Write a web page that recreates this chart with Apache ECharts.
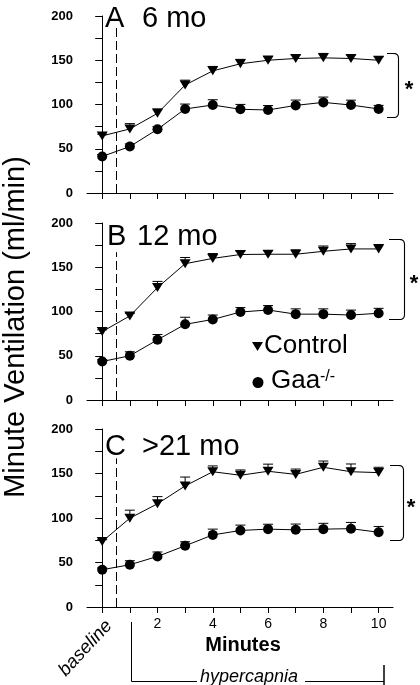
<!DOCTYPE html>
<html><head><meta charset="utf-8">
<script src="https://cdn.jsdelivr.net/npm/echarts@6/dist/echarts.min.js"></script>
<style>html,body{margin:0;padding:0;background:#fff}#c{width:420px;height:685px}</style>
</head><body><div id="c"></div>
<script>
// ---- data ----
const minutes = [0,1,2,3,4,5,6,7,8,9,10];
const xTickLabels = [2,4,6,8,10];
const yTickLabels = [0,50,100,150,200];
const panelLetters = ['A','B','C'];
const panelAges = ['6 mo','12 mo','>21 mo'];
const seriesNames = ['Control','Gaa'];

const controlA    = [64.5,72.4,90,122,138,146,150,152,152.7,152,150];
const controlAErr = [2,6,5,5.5,5,5,4.6,4,5,4,4];
const gaaA        = [41.3,52.5,72,95,99.4,94.6,93.8,99,102.4,99.4,95];
const gaaAErr     = [2,3,3,5.5,6,5.5,5,6,6,5.5,4];

const controlB    = [77.3,95,127,154,160,164.4,164.7,164.7,168,170.7,170.7];
const controlBErr = [2,3,7,7,5.5,4,4,5,6,6,5];
const gaaB        = [43.5,50,68,85.5,91,99.4,101.7,97,97,96,98];
const gaaBErr     = [2,4.5,6,8,5,5,5,6,6,5.6,5.6];

const controlC    = [73.6,99.8,116,136,152,148,152.5,149,157,152,151];
const controlCErr = [2,9,8,10,6.5,6,8,6,7,8.7,6];
const gaaC        = [41.9,47.5,56.8,68.8,81,86,87.5,86.7,87.5,88,84];
const gaaCErr     = [2,4.5,5,4.5,6.5,6,5.5,6.5,6.5,7,6.5];

// significance bracket spans (value units) and dashed-line tops
const bracketSpans = [[158.5,86],[182,91.5],[159.6,75]];
const dashTops = [188,167,167];
const hypercapniaStart = 0.5;

// ---- layout ----
const FONT = '"Liberation Sans", Arial, sans-serif';
const gridTops = [16,223,429];
const gridHeights = [177,177,178];
const bracketX = [[387,398],[389,404],[390,403]];
const starX = [409,414,411];

const controls = [controlA, controlB, controlC];
const controlErrs = [controlAErr, controlBErr, controlCErr];
const gaas = [gaaA, gaaB, gaaC];
const gaaErrs = [gaaAErr, gaaBErr, gaaCErr];

function errRender(params, api){
  const x = api.value(0), y = api.value(1), e = api.value(2);
  const p0 = api.coord([x,y]); const p1 = api.coord([x,y+e]);
  return {type:'group', children:[
    {type:'line', shape:{x1:p0[0],y1:p0[1],x2:p1[0],y2:p1[1]}, style:{stroke:'#000',lineWidth:1}},
    {type:'line', shape:{x1:p1[0]-5,y1:p1[1],x2:p1[0]+5,y2:p1[1]}, style:{stroke:'#000',lineWidth:1}}
  ]};
}

const chart = echarts.init(document.getElementById('c'), null, {renderer:'canvas'});
const grid=[], xAxis=[], yAxis=[], series=[];
for (let i=0;i<3;i++){
  grid.push({left:87, right:27, top:gridTops[i], height:gridHeights[i], containLabel:false, outerBoundsMode:'none'});
  xAxis.push({type:'value', gridIndex:i, min:-0.55, max:10.52,
    axisLine:{show:true,onZero:false,lineStyle:{color:'#000',width:1}},
    axisTick:{show:true, customValues:minutes, length:6, lineStyle:{color:'#000',width:1}},
    axisLabel:{show:i===2, customValues:xTickLabels, margin:10, color:'#000', fontSize:14, fontFamily:FONT},
    splitLine:{show:false}});
  yAxis.push({type:'value', gridIndex:i, min:0, max:200, interval:25,
    axisLine:{show:true,lineStyle:{color:'#000',width:1}},
    axisTick:{show:true, length:7, lineStyle:{color:'#000',width:1}},
    axisLabel:{margin:14, color:'#000', fontSize:13, fontWeight:'bold', fontFamily:FONT,
      formatter:v=> yTickLabels.includes(v)? String(v):''},
    splitLine:{show:false}});
  const c = controls[i], g = gaas[i];
  series.push({type:'custom', xAxisIndex:i, yAxisIndex:i, renderItem:errRender, z:1,
    data:minutes.map((m,k)=>[m,c[k],controlErrs[i][k]])});
  series.push({type:'custom', xAxisIndex:i, yAxisIndex:i, renderItem:errRender, z:1,
    data:minutes.map((m,k)=>[m,g[k],gaaErrs[i][k]])});
  series.push({type:'line', name:seriesNames[0], xAxisIndex:i, yAxisIndex:i, z:3,
    data:minutes.map((m,k)=>[m,c[k]]), symbol:'triangle', symbolRotate:180, symbolSize:[11,9],
    itemStyle:{color:'#000'}, lineStyle:{color:'#000',width:1}, showAllSymbol:true,
    markLine:{silent:true, symbol:'none', label:{show:false},
      lineStyle:{color:'#000',width:1,type:[9,4]},
      data:[[{coord:[hypercapniaStart,0]},{coord:[hypercapniaStart,dashTops[i]]}]]}});
  series.push({type:'line', name:seriesNames[1], xAxisIndex:i, yAxisIndex:i, z:3,
    data:minutes.map((m,k)=>[m,g[k]]), symbol:'circle', symbolSize:10,
    itemStyle:{color:'#000'}, lineStyle:{color:'#000',width:1}, showAllSymbol:true});
}
chart.setOption({animation:false, backgroundColor:'#fff', grid, xAxis, yAxis, series});

// ---- annotations ----
function quad(p0,c,p1,n){const out=[];for(let k=0;k<=n;k++){const t=k/n,u=1-t;
  out.push([u*u*p0[0]+2*u*t*c[0]+t*t*p1[0], u*u*p0[1]+2*u*t*c[1]+t*t*p1[1]]);}return out;}
const gfx = [];
for (let i=0;i<3;i++){
  const pt = chart.convertToPixel({gridIndex:i},[10,bracketSpans[i][0]]);
  const pb = chart.convertToPixel({gridIndex:i},[10,bracketSpans[i][1]]);
  const yT = Math.round(pt[1])+0.5, yB = Math.round(pb[1])+0.5, xl = bracketX[i][0], xr = bracketX[i][1]+0.5;
  const pts = [[xl,yT]].concat(quad([xr-5,yT],[xr,yT],[xr,yT+5],6))
    .concat(quad([xr,yB-5],[xr,yB],[xr-5,yB],6)).concat([[xl,yB]]);
  gfx.push({type:'polyline', shape:{points:pts}, style:{fill:'none',stroke:'#000',lineWidth:1.1}});
  gfx.push({type:'text', x:starX[i], y:(yT+yB)/2+4.5, style:{text:'*', font:`bold 22px ${FONT}`, fill:'#000', align:'center', verticalAlign:'middle'}});
}
const titleY = [19,237,447];
const letterX = [105,107,105];
const ageX = [142,137,142];
for (let i=0;i<3;i++){
  gfx.push({type:'text', x:letterX[i], y:titleY[i], style:{text:panelLetters[i], font:`29px ${FONT}`, fill:'#000', align:'left', verticalAlign:'middle'}});
  gfx.push({type:'text', x:ageX[i], y:titleY[i], style:{text:panelAges[i], font:`29px ${FONT}`, fill:'#000', align:'left', verticalAlign:'middle'}});
}
// legend
gfx.push({type:'polygon', shape:{points:[[252,342],[263,342],[257.5,351]]}, style:{fill:'#000'}});
gfx.push({type:'text', x:264, y:346, style:{text:'Control', font:`26px ${FONT}`, fill:'#000', align:'left', verticalAlign:'middle'}});
gfx.push({type:'circle', shape:{cx:258,cy:382.5,r:5.5}, style:{fill:'#000'}});
gfx.push({type:'text', x:271, y:380.5, style:{text:'Gaa', font:`26px ${FONT}`, fill:'#000', align:'left', verticalAlign:'middle'}});
gfx.push({type:'text', x:320, y:377, style:{text:'-/-', font:`16px ${FONT}`, fill:'#000', align:'left', verticalAlign:'middle'}});
// axis titles
gfx.push({type:'text', x:16, y:327, rotation:Math.PI/2, style:{text:'Minute Ventilation (ml/min)', font:`29px ${FONT}`, fill:'#000', align:'center', verticalAlign:'middle'}});
gfx.push({type:'text', x:243, y:645, style:{text:'Minutes', font:`bold 20px ${FONT}`, fill:'#000', align:'center', verticalAlign:'middle'}});
gfx.push({type:'text', x:109, y:623, rotation:47*Math.PI/180, style:{text:'baseline', font:`italic 18.5px ${FONT}`, fill:'#000', align:'right', verticalAlign:'middle'}});
gfx.push({type:'polyline', shape:{points:[[131.5,622],[131.5,681.5],[197,681.5]]}, style:{stroke:'#000',lineWidth:1,fill:'none'}});
gfx.push({type:'text', x:249, y:677, style:{text:'hypercapnia', font:`italic 18px ${FONT}`, fill:'#000', align:'center', verticalAlign:'middle'}});
gfx.push({type:'line', shape:{x1:305,y1:681.5,x2:384,y2:681.5}, style:{stroke:'#000',lineWidth:1}});
gfx.push({type:'line', shape:{x1:384,y1:665,x2:384,y2:685}, style:{stroke:'#000',lineWidth:1.5}});
chart.setOption({graphic:gfx});
</script></body></html>
